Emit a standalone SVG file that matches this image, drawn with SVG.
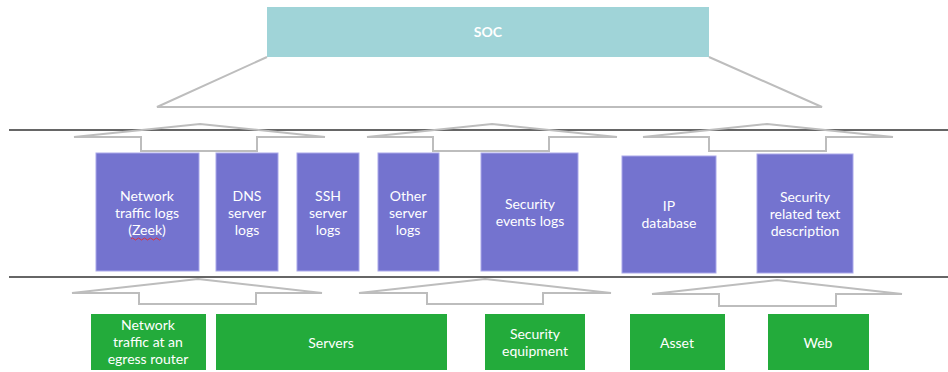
<svg xmlns="http://www.w3.org/2000/svg" width="948" height="372" viewBox="0 0 948 372">
  <style>
    .lbl { font-family: Lato, "Open Sans", "Liberation Sans", sans-serif; font-size: 14px; fill: #ffffff; text-anchor: middle; }
    .soc { fill: #a0d4d8; }
    .data { fill: #7473cf; stroke: #a9a8ea; stroke-width: 1; }
    .src { fill: #23ab3b; }
    .arrow { fill: none; stroke: #bdbdbd; stroke-width: 2; stroke-linejoin: miter; }
    .rule { stroke: #666666; stroke-width: 2; }
  </style>

  <!-- Top node -->
  <g id="soc">
    <rect class="soc" x="267" y="7" width="442" height="50"/>
    <text class="lbl" x="488" y="37" font-weight="bold" font-size="13">SOC</text>
  </g>

  <!-- Connectors: funnel, layer rules and block arrows -->
  <g id="connectors">
    <polyline class="arrow" points="267,57 157,107 822,107 709,57"/>
    <line class="rule" x1="9" y1="130" x2="948" y2="130"/>
    <line class="rule" x1="9" y1="277" x2="948" y2="277"/>

    <!-- data layer to SOC -->
    <polygon class="arrow" points="200,124 325,137 257,137 257,151 141,151 141,137 74,137"/>
    <polygon class="arrow" points="492,124 617,137 549,137 549,151 433,151 433,137 367,137"/>
    <polygon class="arrow" points="767,124 893,137 826,137 826,151 709,151 709,137 643,137"/>

    <!-- sources to data layer -->
    <polygon class="arrow" points="198,279 322,293 256,293 256,304 139,304 139,293 72,293"/>
    <polygon class="arrow" points="485,279 611,293 543,293 543,304 427,304 427,293 359,293"/>
    <polygon class="arrow" points="777,280 902,294 836,294 836,306 719,306 719,294 652,294"/>
  </g>

  <!-- Data layer -->
  <g id="net-logs">
    <rect class="data" x="96" y="153" width="103" height="118"/>
    <text class="lbl" x="147" y="201">Network</text>
    <text class="lbl" x="147" y="218">traffic logs</text>
    <text class="lbl" x="147" y="235">(Zeek)</text>
    <path d="M131,239 q1.5,-2 3,0 t3,0 t3,0 t3,0 t3,0 t3,0 t3,0 t3,0 t3,0 t3,0" fill="none" stroke="#e0303a" stroke-width="1"/>
  </g>
  <g id="dns-logs">
    <rect class="data" x="216" y="153" width="62" height="118"/>
    <text class="lbl" x="247" y="201">DNS</text>
    <text class="lbl" x="247" y="218">server</text>
    <text class="lbl" x="247" y="235">logs</text>
  </g>
  <g id="ssh-logs">
    <rect class="data" x="297" y="153" width="62" height="118"/>
    <text class="lbl" x="328" y="201">SSH</text>
    <text class="lbl" x="328" y="218">server</text>
    <text class="lbl" x="328" y="235">logs</text>
  </g>
  <g id="other-logs">
    <rect class="data" x="378" y="153" width="61" height="118"/>
    <text class="lbl" x="408" y="201">Other</text>
    <text class="lbl" x="408" y="218">server</text>
    <text class="lbl" x="408" y="235">logs</text>
  </g>
  <g id="sec-events">
    <rect class="data" x="481" y="153" width="97" height="118"/>
    <text class="lbl" x="530" y="209">Security</text>
    <text class="lbl" x="530" y="226">events logs</text>
  </g>
  <g id="ip-db">
    <rect class="data" x="622" y="156" width="94" height="117"/>
    <text class="lbl" x="669" y="211">IP</text>
    <text class="lbl" x="669" y="228">database</text>
  </g>
  <g id="sec-text">
    <rect class="data" x="757" y="154" width="96" height="119"/>
    <text class="lbl" x="805" y="202">Security</text>
    <text class="lbl" x="805" y="219">related text</text>
    <text class="lbl" x="805" y="236">description</text>
  </g>

  <!-- Source layer -->
  <g id="egress">
    <rect class="src" x="91" y="314" width="115" height="56"/>
    <text class="lbl" x="148" y="330">Network</text>
    <text class="lbl" x="148" y="347">traffic at an</text>
    <text class="lbl" x="148" y="364">egress router</text>
  </g>
  <g id="servers">
    <rect class="src" x="216" y="314" width="231" height="56"/>
    <text class="lbl" x="331" y="348">Servers</text>
  </g>
  <g id="sec-equip">
    <rect class="src" x="485" y="314" width="100" height="56"/>
    <text class="lbl" x="535" y="339">Security</text>
    <text class="lbl" x="535" y="356">equipment</text>
  </g>
  <g id="asset">
    <rect class="src" x="630" y="314" width="95" height="56"/>
    <text class="lbl" x="677" y="348">Asset</text>
  </g>
  <g id="web">
    <rect class="src" x="768" y="314" width="101" height="56"/>
    <text class="lbl" x="818" y="348">Web</text>
  </g>
</svg>
